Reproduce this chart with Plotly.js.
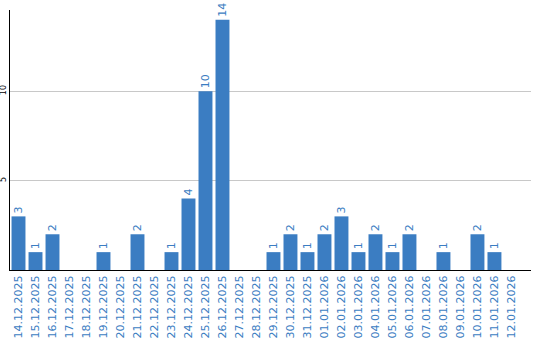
<!DOCTYPE html>
<html>
<head>
<meta charset="utf-8">
<script src="https://cdn.plot.ly/plotly-3.0.1.min.js"></script>
<style>html,body{margin:0;padding:0;background:#fff;}#chart{width:540px;height:340px;}</style>
</head>
<body>
<div id="chart"></div>
<script>
var dates = ["14.12.2025","15.12.2025","16.12.2025","17.12.2025","18.12.2025","19.12.2025","20.12.2025","21.12.2025","22.12.2025","23.12.2025","24.12.2025","25.12.2025","26.12.2025","27.12.2025","28.12.2025","29.12.2025","30.12.2025","31.12.2025","01.01.2026","02.01.2026","03.01.2026","04.01.2026","05.01.2026","06.01.2026","07.01.2026","08.01.2026","09.01.2026","10.01.2026","11.01.2026","12.01.2026"];
var counts = [3,1,2,0,0,1,0,2,0,1,4,10,14,0,0,1,2,1,2,3,1,2,1,2,0,1,0,2,1,0];
var yTicks = [5, 10];

var barColor = "#3b7dc2";
var labels = counts.map(function(v){ return v > 0 ? String(v) : ""; });

var trace = {
  type: "bar",
  x: dates,
  y: counts,
  text: labels,
  textposition: "outside",
  textangle: -90,
  cliponaxis: false,
  textfont: {family: "DejaVu Sans, Verdana, sans-serif", size: 11, color: barColor},
  marker: {color: barColor},
  hoverinfo: "none"
};

var layout = {
  width: 540, height: 340,
  margin: {l: 10, r: 9, t: 10, b: 70, pad: 0},
  paper_bgcolor: "#fff", plot_bgcolor: "#fff",
  showlegend: false,
  bargap: 0.18,
  xaxis: {
    type: "category",
    range: [-0.5, 30.15],
    tickangle: -90,
    tickfont: {family: "DejaVu Sans, Verdana, sans-serif", size: 11, color: barColor},
    showline: true, linecolor: "#000", linewidth: 1,
    showgrid: false, ticks: "", ticklen: 0,
    automargin: false
  },
  yaxis: {
    range: [0, 14.55],
    tickvals: yTicks,
    ticktext: yTicks.map(String),
    tickangle: -90,
    tickfont: {family: "DejaVu Sans, Verdana, sans-serif", size: 8, color: "#000"},
    showline: true, linecolor: "#000", linewidth: 1,
    showgrid: true, gridcolor: "#c8c8c8", gridwidth: 1,
    zeroline: false, ticks: "",
    automargin: false
  }
};

Plotly.newPlot("chart", [trace], layout, {staticPlot: true, displayModeBar: false});
</script>
</body>
</html>
